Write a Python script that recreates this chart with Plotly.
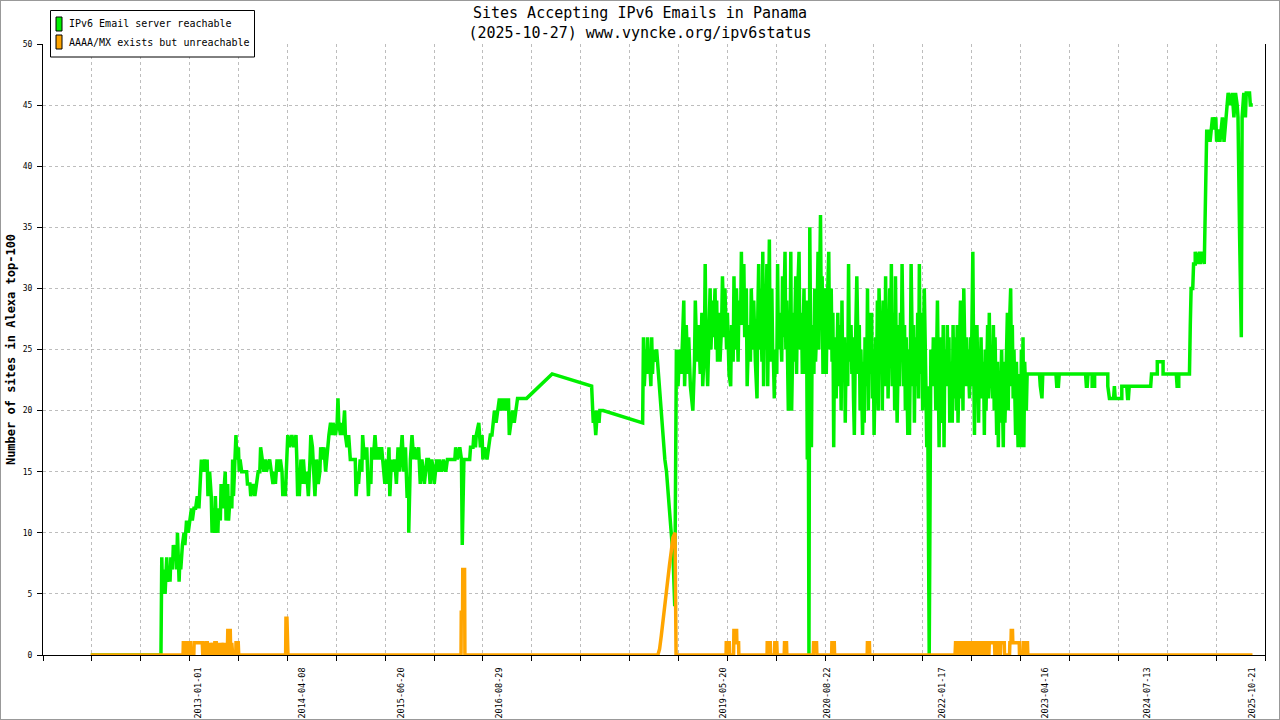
"""
Sites Accepting IPv6 Emails in Panama - redraw of the gnuplot chart
"""

import pandas as pd
import plotly.graph_objects as go

# time of each sample as a decimal year
green_when = [
    2011.70, 2012.55, 2012.56, 2012.57, 2012.59, 2012.60, 2012.62, 2012.63, 2012.65, 2012.66,
    2012.67, 2012.69, 2012.70, 2012.72, 2012.73, 2012.74, 2012.75, 2012.76, 2012.77, 2012.78,
    2012.79, 2012.81, 2012.83, 2012.84, 2012.86, 2012.88, 2012.90, 2012.92, 2012.93, 2012.95,
    2012.97, 2012.99, 2013.01, 2013.02, 2013.04, 2013.06, 2013.08, 2013.09, 2013.11, 2013.12,
    2013.14, 2013.16, 2013.17, 2013.18, 2013.20, 2013.21, 2013.22, 2013.24, 2013.25, 2013.27,
    2013.28, 2013.30, 2013.31, 2013.33, 2013.34, 2013.36, 2013.37, 2013.39, 2013.41, 2013.42,
    2013.43, 2013.45, 2013.46, 2013.47, 2013.49, 2013.50, 2013.51, 2013.53, 2013.59, 2013.60,
    2013.63, 2013.64, 2013.67, 2013.69, 2013.71, 2013.73, 2013.75, 2013.76, 2013.78, 2013.80,
    2013.82, 2013.83, 2013.87, 2013.89, 2013.91, 2013.93, 2013.94, 2013.96, 2013.98, 2014.00,
    2014.02, 2014.03, 2014.05, 2014.06, 2014.08, 2014.09, 2014.11, 2014.14, 2014.16, 2014.19,
    2014.20, 2014.21, 2014.22, 2014.23, 2014.25, 2014.27, 2014.28, 2014.30, 2014.32, 2014.34,
    2014.36, 2014.37, 2014.39, 2014.41, 2014.42, 2014.44, 2014.46, 2014.48, 2014.49, 2014.51,
    2014.53, 2014.55, 2014.57, 2014.59, 2014.61, 2014.63, 2014.64, 2014.67, 2014.69, 2014.70,
    2014.71, 2014.73, 2014.75, 2014.76, 2014.78, 2014.79, 2014.81, 2014.83, 2014.85, 2014.91,
    2014.92, 2014.94, 2014.95, 2014.97, 2014.99, 2015.00, 2015.01, 2015.03, 2015.05, 2015.07,
    2015.08, 2015.10, 2015.11, 2015.13, 2015.15, 2015.17, 2015.19, 2015.21, 2015.23, 2015.25,
    2015.27, 2015.29, 2015.30, 2015.32, 2015.33, 2015.35, 2015.37, 2015.39, 2015.41, 2015.43,
    2015.45, 2015.46, 2015.48, 2015.50, 2015.52, 2015.54, 2015.56, 2015.56, 2015.57, 2015.58,
    2015.60, 2015.62, 2015.63, 2015.66, 2015.68, 2015.70, 2015.72, 2015.74, 2015.75, 2015.78,
    2015.80, 2015.82, 2015.84, 2015.86, 2015.87, 2015.90, 2015.92, 2015.93, 2015.96, 2015.98,
    2016.01, 2016.03, 2016.12, 2016.13, 2016.15, 2016.18, 2016.20, 2016.21, 2016.23, 2016.30,
    2016.31, 2016.34, 2016.35, 2016.37, 2016.38, 2016.41, 2016.43, 2016.45, 2016.46, 2016.48,
    2016.51, 2016.53, 2016.55, 2016.57, 2016.58, 2016.60, 2016.62, 2016.64, 2016.66, 2016.68,
    2016.69, 2016.71, 2016.73, 2016.75, 2016.77, 2016.78, 2016.80, 2016.82, 2016.84, 2016.86,
    2016.88, 2016.99, 2017.30, 2017.78, 2017.79, 2017.80, 2017.81, 2017.83, 2017.84, 2017.85,
    2017.87, 2017.88, 2017.92, 2018.40, 2018.41, 2018.42, 2018.44, 2018.45, 2018.46, 2018.47,
    2018.48, 2018.50, 2018.51, 2018.52, 2018.53, 2018.55, 2018.57, 2018.59, 2018.61, 2018.63,
    2018.65, 2018.67, 2018.69, 2018.71, 2018.73, 2018.75, 2018.77, 2018.79, 2018.81, 2018.83,
    2018.85, 2018.87, 2018.89, 2018.90, 2018.91, 2018.93, 2018.95, 2018.96, 2018.98, 2019.01,
    2019.03, 2019.04, 2019.06, 2019.08, 2019.10, 2019.12, 2019.13, 2019.15, 2019.16, 2019.17,
    2019.19, 2019.21, 2019.22, 2019.23, 2019.25, 2019.26, 2019.28, 2019.29, 2019.30, 2019.31,
    2019.33, 2019.34, 2019.36, 2019.37, 2019.39, 2019.40, 2019.42, 2019.43, 2019.45, 2019.47,
    2019.48, 2019.50, 2019.51, 2019.52, 2019.54, 2019.56, 2019.57, 2019.59, 2019.60, 2019.61,
    2019.63, 2019.64, 2019.66, 2019.67, 2019.69, 2019.71, 2019.72, 2019.74, 2019.75, 2019.77,
    2019.79, 2019.80, 2019.81, 2019.82, 2019.83, 2019.85, 2019.86, 2019.87, 2019.88, 2019.89,
    2019.91, 2019.92, 2019.93, 2019.94, 2019.95, 2019.97, 2019.98, 2019.99, 2020.00, 2020.01,
    2020.03, 2020.04, 2020.05, 2020.07, 2020.09, 2020.10, 2020.11, 2020.13, 2020.14, 2020.15,
    2020.17, 2020.18, 2020.19, 2020.20, 2020.21, 2020.23, 2020.24, 2020.26, 2020.27, 2020.28,
    2020.30, 2020.31, 2020.33, 2020.34, 2020.36, 2020.37, 2020.39, 2020.40, 2020.41, 2020.42,
    2020.43, 2020.45, 2020.46, 2020.48, 2020.49, 2020.50, 2020.52, 2020.53, 2020.54, 2020.56,
    2020.57, 2020.58, 2020.59, 2020.61, 2020.62, 2020.63, 2020.64, 2020.66, 2020.67, 2020.69,
    2020.70, 2020.71, 2020.72, 2020.73, 2020.75, 2020.77, 2020.78, 2020.80, 2020.81, 2020.82,
    2020.83, 2020.85, 2020.86, 2020.87, 2020.89, 2020.90, 2020.91, 2020.93, 2020.94, 2020.95,
    2020.96, 2020.97, 2020.98, 2020.99, 2021.00, 2021.02, 2021.03, 2021.04, 2021.05, 2021.07,
    2021.08, 2021.09, 2021.10, 2021.12, 2021.13, 2021.14, 2021.15, 2021.16, 2021.18, 2021.19,
    2021.20, 2021.21, 2021.23, 2021.24, 2021.25, 2021.26, 2021.27, 2021.29, 2021.30, 2021.31,
    2021.32, 2021.34, 2021.35, 2021.36, 2021.37, 2021.38, 2021.40, 2021.41, 2021.42, 2021.43,
    2021.45, 2021.46, 2021.47, 2021.48, 2021.49, 2021.51, 2021.52, 2021.53, 2021.54, 2021.55,
    2021.57, 2021.58, 2021.59, 2021.60, 2021.62, 2021.63, 2021.64, 2021.65, 2021.66, 2021.68,
    2021.69, 2021.70, 2021.71, 2021.73, 2021.74, 2021.75, 2021.76, 2021.77, 2021.79, 2021.80,
    2021.81, 2021.82, 2021.84, 2021.85, 2021.86, 2021.88, 2021.90, 2021.92, 2021.93, 2021.94,
    2021.95, 2021.96, 2021.98, 2021.99, 2022.00, 2022.01, 2022.02, 2022.04, 2022.05, 2022.06,
    2022.07, 2022.09, 2022.10, 2022.11, 2022.12, 2022.13, 2022.15, 2022.16, 2022.17, 2022.18,
    2022.20, 2022.21, 2022.22, 2022.23, 2022.24, 2022.26, 2022.27, 2022.28, 2022.29, 2022.30,
    2022.32, 2022.33, 2022.34, 2022.35, 2022.37, 2022.38, 2022.39, 2022.40, 2022.41, 2022.42,
    2022.43, 2022.44, 2022.45, 2022.46, 2022.48, 2022.49, 2022.50, 2022.51, 2022.52, 2022.54,
    2022.55, 2022.56, 2022.57, 2022.59, 2022.60, 2022.61, 2022.62, 2022.63, 2022.65, 2022.66,
    2022.67, 2022.68, 2022.70, 2022.71, 2022.72, 2022.73, 2022.74, 2022.76, 2022.77, 2022.78,
    2022.79, 2022.80, 2022.82, 2022.83, 2022.84, 2022.85, 2022.87, 2022.88, 2022.89, 2022.90,
    2022.91, 2022.93, 2022.94, 2022.95, 2022.96, 2022.98, 2022.99, 2023.00, 2023.01, 2023.02,
    2023.03, 2023.04, 2023.06, 2023.07, 2023.08, 2023.22, 2023.23, 2023.24, 2023.25, 2023.26,
    2023.42, 2023.43, 2023.45, 2023.46, 2023.78, 2023.79, 2023.80, 2023.81, 2023.86, 2023.86,
    2023.89, 2023.89, 2024.05, 2024.05, 2024.07, 2024.12, 2024.13, 2024.14, 2024.22, 2024.22,
    2024.28, 2024.29, 2024.30, 2024.31, 2024.57, 2024.58, 2024.65, 2024.65, 2024.72, 2024.72,
    2024.88, 2024.89, 2024.91, 2024.91, 2025.04, 2025.05, 2025.06, 2025.08, 2025.09, 2025.11,
    2025.11, 2025.14, 2025.16, 2025.17, 2025.20, 2025.22, 2025.23, 2025.24, 2025.25, 2025.26,
    2025.27, 2025.29, 2025.31, 2025.32, 2025.34, 2025.36, 2025.37, 2025.39, 2025.41, 2025.43,
    2025.44, 2025.46, 2025.48, 2025.50, 2025.51, 2025.54, 2025.56, 2025.58, 2025.60, 2025.62,
    2025.63, 2025.65, 2025.67, 2025.68, 2025.70, 2025.72, 2025.73, 2025.77, 2025.78, 2025.81,
]

# number of top-100 sites whose IPv6 mail server answers
green_sites = [
    0, 0, 8, 5, 7, 5, 8, 6, 7, 6,
    8, 7, 9, 8, 9, 7, 10, 8, 6, 8,
    7, 9, 10, 9, 11, 10, 11, 12, 11, 12,
    12, 13, 12, 14, 16, 15, 16, 15, 16, 13,
    15, 13, 10, 12, 10, 13, 11, 10, 12, 11,
    14, 12, 13, 15, 11, 14, 11, 13, 12, 16,
    13, 17, 18, 16, 17, 15, 16, 15, 15, 14,
    14, 13, 14, 13, 14, 15, 15, 17, 16, 15,
    16, 15, 16, 15, 14, 15, 14, 16, 15, 16,
    15, 13, 14, 13, 17, 18, 17, 18, 17, 18,
    16, 13, 15, 13, 16, 14, 16, 14, 15, 13,
    16, 18, 17, 15, 13, 16, 14, 15, 17, 16,
    17, 15, 17, 18, 19, 18, 19, 18, 19, 21,
    19, 18, 19, 18, 20, 18, 17, 18, 16, 16,
    13, 15, 14, 16, 15, 18, 17, 16, 17, 13,
    15, 14, 17, 16, 18, 16, 17, 16, 17, 15,
    14, 16, 14, 17, 13, 16, 15, 16, 14, 17,
    15, 16, 18, 15, 17, 13, 13, 10, 13, 16,
    18, 16, 17, 16, 17, 14, 16, 15, 14, 16,
    16, 14, 16, 15, 14, 16, 15, 16, 15, 16,
    15, 16, 16, 17, 16, 17, 16, 9, 16, 16,
    17, 17, 18, 17, 18, 19, 17, 18, 16, 17,
    16, 17, 18, 18, 19, 20, 19, 20, 21, 20,
    21, 20, 21, 20, 21, 18, 19, 20, 19, 20,
    21, 21, 23, 22, 20, 19, 20, 18, 19, 20,
    19, 20, 20, 19, 26, 22, 25, 23, 26, 24,
    25, 22, 26, 23, 25, 24, 25, 23, 22, 19,
    17, 16, 15, 13, 11, 10, 8, 4, 25, 22,
    25, 23, 27, 29, 22, 27, 23, 26, 22, 20,
    24, 29, 24, 27, 23, 28, 22, 25, 32, 26,
    22, 26, 30, 25, 29, 26, 30, 25, 29, 24,
    28, 24, 27, 31, 26, 30, 25, 28, 23, 22,
    27, 24, 31, 25, 30, 24, 29, 27, 33, 27,
    32, 26, 30, 22, 27, 24, 30, 25, 29, 24,
    21, 28, 32, 25, 30, 24, 33, 22, 30, 25,
    32, 22, 27, 34, 24, 30, 25, 24, 21, 25,
    23, 32, 25, 28, 24, 31, 26, 33, 25, 29,
    20, 27, 24, 33, 20, 28, 24, 31, 23, 29,
    33, 25, 28, 23, 30, 23, 29, 16, 27, 0,
    35, 17, 27, 23, 30, 24, 28, 33, 25, 36,
    27, 31, 23, 30, 26, 23, 28, 33, 25, 30,
    24, 28, 17, 26, 21, 28, 22, 27, 20, 29,
    23, 26, 19, 25, 22, 32, 24, 27, 23, 26,
    21, 18, 24, 27, 31, 23, 27, 20, 25, 18,
    24, 19, 26, 22, 30, 20, 28, 23, 28, 21,
    25, 18, 26, 22, 29, 20, 30, 24, 27, 20,
    29, 22, 31, 23, 28, 21, 30, 24, 32, 22,
    28, 20, 31, 24, 19, 27, 22, 28, 24, 32,
    22, 27, 20, 26, 18, 25, 18, 24, 32, 22,
    27, 19, 26, 22, 28, 21, 32, 23, 28, 20,
    27, 30, 22, 17, 22, 0, 25, 22, 26, 22,
    25, 20, 29, 21, 17, 26, 21, 19, 27, 17,
    25, 22, 27, 22, 26, 19, 24, 19, 27, 21,
    26, 20, 27, 19, 24, 29, 21, 27, 20, 30,
    22, 26, 22, 25, 21, 26, 22, 28, 33, 24,
    18, 27, 21, 27, 19, 25, 22, 26, 21, 24,
    18, 25, 20, 27, 21, 28, 22, 24, 21, 27,
    20, 26, 18, 24, 17, 23, 19, 25, 20, 17,
    24, 19, 25, 28, 20, 26, 30, 22, 27, 21,
    25, 18, 24, 20, 17, 23, 17, 25, 19, 26,
    17, 24, 20, 23, 23, 23, 22, 21, 21, 23,
    23, 22, 22, 23, 23, 22, 22, 23, 23, 22,
    22, 23, 23, 22, 21, 21, 22, 21, 21, 22,
    22, 21, 21, 22, 22, 23, 23, 24, 24, 23,
    23, 22, 22, 23, 23, 27, 30, 30, 32, 32,
    33, 32, 33, 32, 33, 32, 35, 40, 43, 42,
    43, 42, 43, 44, 43, 44, 42, 43, 42, 43,
    44, 42, 44, 45, 46, 45, 46, 44, 46, 45,
    44, 34, 26, 44, 46, 44, 46, 46, 45, 45,
]

orange_when = [
    2011.697, 2012.818, 2012.821, 2012.845, 2012.851, 2012.872, 2012.875, 2012.906, 2012.912,
    2012.948, 2012.952, 2013.051, 2013.057, 2013.069, 2013.081, 2013.093, 2013.112, 2013.118,
    2013.130, 2013.142, 2013.154, 2013.172, 2013.178, 2013.191, 2013.203, 2013.221, 2013.227,
    2013.239, 2013.251, 2013.263, 2013.276, 2013.288, 2013.306, 2013.312, 2013.324, 2013.336,
    2013.355, 2013.361, 2013.391, 2013.397, 2013.409, 2013.421, 2013.458, 2013.461, 2013.488,
    2013.494, 2014.064, 2014.068, 2014.080, 2014.092, 2016.195, 2016.198, 2016.214, 2016.216,
    2016.238, 2016.242, 2018.585, 2018.606, 2018.627, 2018.646, 2018.667, 2018.687, 2018.707,
    2018.727, 2018.748, 2018.767, 2018.794, 2018.806, 2019.414, 2019.416, 2019.453, 2019.457,
    2019.505, 2019.509, 2019.542, 2019.545, 2019.566, 2019.569, 2019.912, 2019.914, 2019.951,
    2019.954, 2020.002, 2020.006, 2020.030, 2020.035, 2020.120, 2020.124, 2020.148, 2020.152,
    2020.472, 2020.476, 2020.512, 2020.516, 2020.695, 2020.698, 2020.727, 2020.731, 2021.126,
    2021.129, 2021.153, 2021.157, 2022.194, 2022.200, 2022.219, 2022.225, 2022.231, 2022.249,
    2022.255, 2022.261, 2022.285, 2022.291, 2022.310, 2022.313, 2022.346, 2022.350, 2022.370,
    2022.374, 2022.407, 2022.410, 2022.431, 2022.435, 2022.467, 2022.471, 2022.492, 2022.495,
    2022.516, 2022.520, 2022.525, 2022.540, 2022.544, 2022.565, 2022.568, 2022.601, 2022.605,
    2022.610, 2022.674, 2022.678, 2022.695, 2022.698, 2022.710, 2022.714, 2022.743, 2022.747,
    2022.792, 2022.795, 2022.856, 2022.860, 2022.874, 2022.877, 2022.892, 2022.896, 2022.974,
    2022.977, 2023.017, 2023.022, 2023.038, 2023.041, 2023.050, 2023.074, 2023.078, 2025.806,
]

# AAAA/MX published but the server does not answer over IPv6
orange_sites = [
    0, 0, 1, 1, 0, 0, 1, 1, 0,
    0, 1, 1, 0, 1, 0, 1, 1, 0,
    1, 0, 1, 0, 1, 0, 1, 1, 0,
    1, 0, 1, 0, 1, 0, 1, 0, 1,
    0, 2, 2, 0, 1, 0, 0, 1, 1,
    0, 0, 3, 3, 0, 0, 3.5, 3.5, 7,
    7, 0, 0, 0.5, 1.6, 2.8, 3.9, 5, 6,
    7.4, 8.5, 9.6, 10, 0, 0, 1, 1, 0,
    0, 2, 2, 1, 1, 0, 0, 1, 1,
    0, 0, 1, 1, 0, 0, 1, 1, 0,
    0, 1, 1, 0, 0, 1, 1, 0, 0,
    1, 1, 0, 0, 1, 1, 0, 1, 1,
    0, 1, 1, 0, 0, 1, 1, 0, 0,
    1, 1, 0, 0, 1, 1, 0, 0, 1,
    1, 0, 1, 1, 0, 0, 1, 1, 0,
    1, 1, 0, 0, 1, 1, 0, 0, 1,
    1, 0, 0, 1, 1, 2, 2, 1, 1,
    0, 0, 1, 1, 0, 1, 1, 0, 0,
]

label_dates = [
    "2013-01-01", "2014-04-08", "2015-06-20", "2016-08-29", "2019-05-20",
    "2020-08-22", "2022-01-17", "2023-04-16", "2024-07-13", "2025-10-21",
]

x_start = 2011.118
x_end = 2025.958

MONO = "DejaVu Sans Mono"
W, H = 1280, 720
ML, MR, MT, MB = 43, 15, 44, 65
PW, PH = W - ML - MR, H - MT - MB


def to_date(year):
    """decimal year -> timestamp"""
    y = int(year)
    a = pd.Timestamp(y, 1, 1)
    b = pd.Timestamp(y + 1, 1, 1)
    return a + (b - a) * (year - y)


def px(x):
    return (x - ML) / PW


def py(y):
    return (H - MB - y) / PH


fig = go.Figure()
fig.add_trace(go.Scatter(x=[to_date(v) for v in green_when], y=green_sites, mode='lines',
                         line=dict(color='#00f000', width=3.5), name='IPv6 Email server reachable'))
fig.add_trace(go.Scatter(x=[to_date(v) for v in orange_when], y=orange_sites, mode='lines',
                         line=dict(color='#ffa500', width=3.5),
                         name='AAAA/MX exists but unreachable'))

t0, t1 = to_date(x_start), to_date(x_end)
grid_ticks = pd.date_range(t0, t1, periods=26)

fig.update_layout(
    width=W, height=H,
    margin=dict(l=ML, r=MR, t=MT, b=MB, autoexpand=False),
    paper_bgcolor='white', plot_bgcolor='white',
    showlegend=False,
    font=dict(family=MONO, color='black'),
    title=dict(text='Sites Accepting IPv6 Emails in Panama<br>(2025-10-27) www.vyncke.org/ipv6status',
               x=0.5, xref='container', xanchor='center',
               y=1 - 18 / H, yref='container', yanchor='top',
               font=dict(family=MONO, size=15, color='black')),
    xaxis=dict(type='date', range=[t0, t1], showgrid=False, zeroline=False,
               showline=True, linecolor='black', linewidth=1,
               tickmode='array', tickvals=label_dates, ticktext=label_dates,
               ticks='', tickangle=-90, ticklabelstandoff=8,
               tickfont=dict(family=MONO, size=8.5),
               minor=dict(tickmode='array', tickvals=list(grid_ticks), ticks='outside',
                          ticklen=5, tickcolor='black', showgrid=True,
                          gridcolor='#bdbdbd', griddash='dot', gridwidth=1)),
    yaxis=dict(range=[0, 50], tick0=0, dtick=5, showgrid=True, gridcolor='#bdbdbd',
               griddash='dot', zeroline=False, showline=True, linecolor='black',
               linewidth=1, mirror=True, ticks='outside', ticklen=5, tickcolor='black',
               ticklabelstandoff=3, tickfont=dict(family=MONO, size=8),
               title=dict(text='Number of sites in Alexa top-100', standoff=4,
                          font=dict(family=MONO, size=12, weight='bold'))),
    yaxis2=dict(range=[0, 50], tick0=0, dtick=5, overlaying='y', side='left', anchor='x',
                showgrid=False, zeroline=False, showline=False, ticks='inside', ticklen=5,
                tickcolor='black', showticklabels=False),
)

# gnuplot-style key box in the top left corner
fig.add_shape(type='rect', xref='paper', yref='paper', x0=px(50.5), x1=px(254.5),
              y0=py(57), y1=py(10.5), line=dict(color='black', width=1), fillcolor='white')
for i, trace in enumerate(fig.data):
    top = 17 + 18 * i
    fig.add_shape(type='rect', xref='paper', yref='paper', x0=px(56), x1=px(62),
                  y0=py(top + 14), y1=py(top), line=dict(color='black', width=1),
                  fillcolor=trace.line.color)
    fig.add_annotation(xref='paper', yref='paper', x=px(67), y=py(top + 7), text=trace.name,
                       showarrow=False, xanchor='left', yanchor='middle',
                       font=dict(family=MONO, size=10, color='black'))

# thin grey frame round the whole picture
fig.add_shape(type='rect', xref='paper', yref='paper', x0=-ML / PW, x1=1 + MR / PW,
              y0=-MB / PH, y1=1 + MT / PH, line=dict(color='#999999', width=2))

# the page's default 8px body margin would push the figure off the window
fig.write_html("out.html", config={'displayModeBar': False},
               post_script="document.body.style.margin='0px';")
